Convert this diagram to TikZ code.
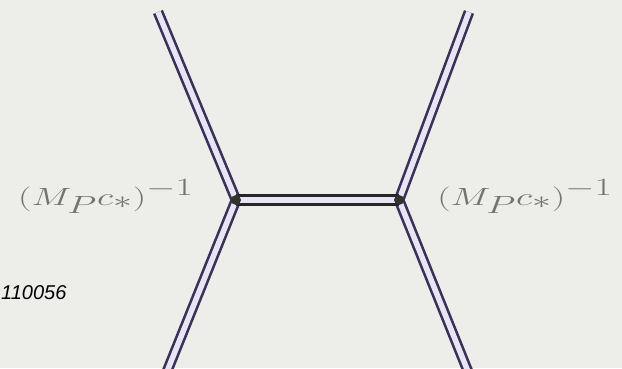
\documentclass[tikz,border=0pt]{standalone}
\usepackage{fontspec}
\usepackage{graphicx}
\usetikzlibrary{positioning}
\newfontfamily\tagfont{Liberation Sans}
\definecolor{propLine}{RGB}{58,48,88}
\definecolor{propFill}{RGB}{232,228,244}
\definecolor{paperGray}{RGB}{237,237,233}
\definecolor{labelGray}{RGB}{115,115,115}

\tikzset{
  prop/.style={draw=propLine, line width=2.6pt, double=propFill, double distance=5.5pt},
  bridge/.style={draw=black!85, line width=3.2pt, double=propFill, double distance=5.5pt},
  vertex/.style={circle, fill=black!80, inner sep=0pt, minimum size=10pt},
  coupling/.style={text=labelGray, font=\fontsize{40}{46}\selectfont, inner sep=0pt, anchor=base},
}

\begin{document}
\begin{tikzpicture}[x=1pt, y=1pt]
    % Paper
    \fill[paperGray] (0,0) rectangle (622,-368);
    \useasboundingbox (0,0) rectangle (622,-368);

    % Vertices and line ends
    \coordinate (vl) at (236,-200);
    \coordinate (vr) at (399,-200);
    \coordinate (tl) at (158,-12);
    \coordinate (tr) at (469,-12);
    \coordinate (bl) at (166,-374);
    \coordinate (br) at (469,-374);

    % Outer legs
    \draw[prop] (tl) -- (vl) -- (bl);
    \draw[prop] (tr) -- (vr) -- (br);

    % Exchanged line
    \draw[bridge] (vl) -- (vr);
    \node[vertex] (dl) at (vl) {};
    \node[vertex] (dr) at (vr) {};

    % Couplings
    \node[coupling] (cl) at (106,-205) {\scalebox{1.52}[1]{$(M_Pc_*)^{-1}$}};
    \node[coupling] (cr) at (525,-205) {\scalebox{1.52}[1]{$(M_Pc_*)^{-1}$}};

    % Tag
    \node[anchor=base west, inner sep=0pt, font=\tagfont\itshape\fontsize{20}{24}\selectfont] (tag) at (1,-299) {110056};
\end{tikzpicture}
\end{document}
